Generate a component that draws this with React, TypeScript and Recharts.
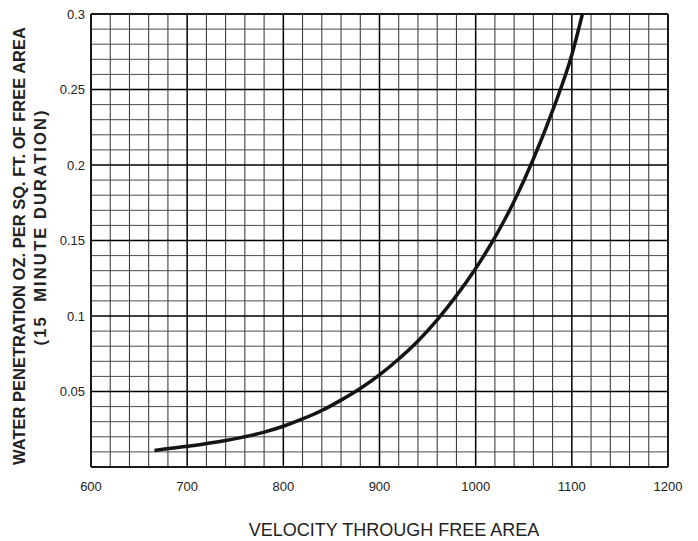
import { LineChart, Line, XAxis, YAxis, ReferenceLine, Label } from 'recharts';

// velocity (x) and water penetration (y)
const velocity = [666, 700, 740, 780, 800, 820, 840, 860, 880, 900, 920, 940, 960, 980, 1000, 1020, 1040, 1060, 1080, 1100, 1111];
const penetration = [0.011, 0.0137, 0.0176, 0.0231, 0.027, 0.0318, 0.0374, 0.0443, 0.052, 0.061, 0.0715, 0.0835, 0.0975, 0.1135, 0.1315, 0.152, 0.176, 0.204, 0.236, 0.273, 0.3];

const xTicks = [600, 700, 800, 900, 1000, 1100, 1200];
const yTicks = [0.05, 0.1, 0.15, 0.2, 0.25, 0.3];
const xMinor = [620, 640, 660, 680, 720, 740, 760, 780, 820, 840, 860, 880, 920, 940, 960, 980, 1020, 1040, 1060, 1080, 1120, 1140, 1160, 1180];
const yMinor = [0.01, 0.02, 0.03, 0.04, 0.06, 0.07, 0.08, 0.09, 0.11, 0.12, 0.13, 0.14, 0.16, 0.17, 0.18, 0.19, 0.21, 0.22, 0.23, 0.24, 0.26, 0.27, 0.28, 0.29];
const xMajor = [700, 800, 900, 1000, 1100];
const yMajor = [0.05, 0.1, 0.15, 0.2, 0.25];

const data = velocity.map((v, i) => ({ v, p: penetration[i] }));

const FONT = '"Liberation Sans", Arial, sans-serif';

export default function App() {
  return (
    <div style={{ position: 'absolute', left: 0, top: 0, background: '#fff' }}>
      <LineChart width={698} height={541} data={data} margin={{ top: 14, right: 30, bottom: 0, left: 0 }}>
        {xMinor.map((x) => (
          <ReferenceLine key={'xm' + x} x={x} stroke="#2e2e2e" strokeWidth={1} />
        ))}
        {yMinor.map((y) => (
          <ReferenceLine key={'ym' + y} y={y} stroke="#4a4a4a" strokeWidth={1} />
        ))}
        {xMajor.map((x) => (
          <ReferenceLine key={'xM' + x} x={x} stroke="#000" strokeWidth={1.5} />
        ))}
        {yMajor.map((y) => (
          <ReferenceLine key={'yM' + y} y={y} stroke="#000" strokeWidth={1.5} />
        ))}
        <ReferenceLine x={600} stroke="#1a1a1a" strokeWidth={2} />
        <ReferenceLine x={1200} stroke="#1a1a1a" strokeWidth={2} />
        <ReferenceLine y={0} stroke="#1a1a1a" strokeWidth={2} />
        <ReferenceLine y={0.3} stroke="#1a1a1a" strokeWidth={2} />
        <XAxis
          dataKey="v"
          type="number"
          domain={[600, 1200]}
          ticks={xTicks}
          axisLine={false}
          tickLine={false}
          tickSize={0}
          tickMargin={15}
          height={74}
          tick={{ fill: '#222', fontSize: 13, fontFamily: FONT }}
        >
          <Label
            content={() => (
              <text x={394} y={536} textAnchor="middle" fill="#222" fontSize={18} fontFamily={FONT}>
                VELOCITY THROUGH FREE AREA
              </text>
            )}
          />
        </XAxis>
        <YAxis
          type="number"
          domain={[0, 0.3]}
          ticks={yTicks}
          axisLine={false}
          tickLine={false}
          tickSize={0}
          tickMargin={6}
          width={91}
          tick={{ fill: '#222', fontSize: 13, fontFamily: FONT }}
        >
          <Label
            content={() => (
              <g fill="#222" fontFamily={FONT} fontWeight="bold" fontSize={16.5}>
                <text x={25} y={246} textAnchor="middle" transform="rotate(-90, 25, 246)">
                  WATER PENETRATION OZ. PER SQ. FT. OF FREE AREA
                </text>
                <text
                  x={46}
                  y={228}
                  textAnchor="middle"
                  transform="rotate(-90, 46, 228)"
                  textLength={235}
                  lengthAdjust="spacing"
                  style={{ whiteSpace: 'pre' }}
                >
                  {'(15  MINUTE DURATION)'}
                </text>
              </g>
            )}
          />
        </YAxis>
        <Line
          type="monotone"
          dataKey="p"
          stroke="#141414"
          strokeWidth={3.5}
          dot={false}
          isAnimationActive={false}
        />
      </LineChart>
    </div>
  );
}
